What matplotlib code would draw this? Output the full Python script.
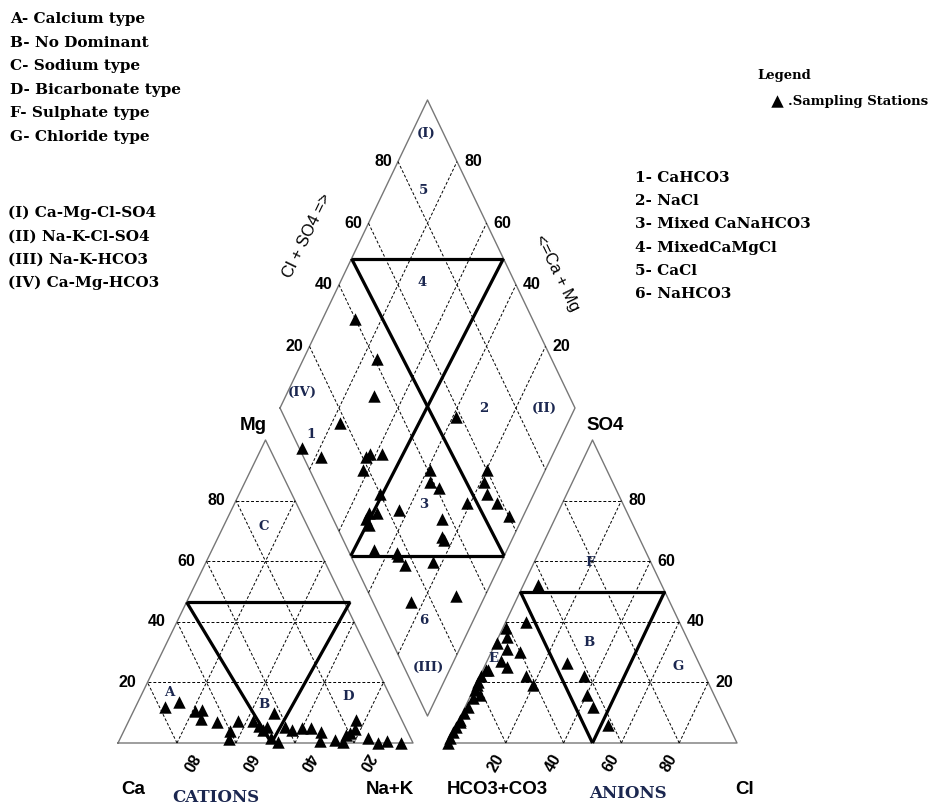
import numpy as np
import matplotlib
matplotlib.use("Agg")
import matplotlib.pyplot as plt

# ---- data (percent of meq) ----
# cation triangle: Na+K %, Mg %
cat_nak = [10, 14, 21, 23, 24, 30, 36, 37, 37, 42, 45, 47, 48, 48, 54, 51,
           54, 57, 60, 63, 67, 68, 73, 76, 77, 77, 78, 76, 84, 88, 91, 96]
cat_mg = [12, 13.5, 10.5, 11, 8, 7, 4, 1.3, 7.3, 7.3, 5.6, 4.3, 10, 5.3, 0.3, 1.7,
          5.3, 4.3, 5, 5, 3.6, 0.7, 1, 2.6, 3.3, 7.6, 4.6, 0.3, 1.7, 0, 0.7, 0]

# anion triangle: Cl %, SO4 %
an_cl = [5, 7, 1, 3, 0.5, 5, 10, 5, 8, 2, 0.5, 16, 20, 28, 36, 40, 44, 52.5,
         0, 0.5, 3, 1, 1, 0.5, 0.5, 0, 0, 0.5, 1, 0.5, 0.5, 0]
an_so4 = [52, 40, 38, 35, 33, 31, 30, 27, 25, 24, 22, 22, 19, 26.5, 22, 16, 12, 6,
          0, 19, 16, 15, 12, 10, 7.6, 5.4, 3.7, 20, 24, 17.5, 7, 1.7]

# diamond: Na+K %, Cl+SO4 %
dia_nak = [11, 25, 30, 23, 14, 22, 37, 38, 42, 38, 61, 63, 67, 48, 57, 47, 47, 49,
           50, 73, 76, 77, 79, 80, 81, 84, 89, 95, 55, 63, 64, 68, 77, 90, 76, 61]
dia_clso4 = [40, 41, 34, 18, 1, 6, 21, 23, 27, 18, 41, 39, 41, 20, 24, 13, 11, 11,
             16, 37, 34, 34, 48, 60, 57, 56, 58, 60, 9, 16, 16, 17, 27, 29, 13, 58]

ticks = [20, 40, 60, 80]

water_types = ["A- Calcium type", "B- No Dominant", "C- Sodium type",
               "D- Bicarbonate type", "F- Sulphate type", "G- Chloride type"]
facies = ["(I) Ca-Mg-Cl-SO4", "(II) Na-K-Cl-SO4", "(III) Na-K-HCO3", "(IV) Ca-Mg-HCO3"]
classes = ["1- CaHCO3", "2- NaCl", "3- Mixed CaNaHCO3", "4- MixedCaMgCl",
           "5- CaCl", "6- NaHCO3"]

# ---- layout (pixel space, y down) ----
BASE = 743
TH = 303          # triangle height
CX0, CS = 118, 295
AX0, AS = 448, 289
DLX, DLY = 280, 408
DW, DH = 295, 616

def cat_xy(nak, mg):
    nak, mg = np.asarray(nak, float), np.asarray(mg, float)
    return CX0 + CS * (nak + mg / 2) / 100, BASE - TH * mg / 100

def an_xy(cl, so4):
    cl, so4 = np.asarray(cl, float), np.asarray(so4, float)
    return AX0 + AS * (cl + so4 / 2) / 100, BASE - TH * so4 / 100

def dia_xy(nak, a):
    nak, a = np.asarray(nak, float), np.asarray(a, float)
    return DLX + DW / 2 * (nak + a) / 100, DLY + DH / 2 * (nak - a) / 100

fig = plt.figure(figsize=(9.35, 8.06), dpi=100)
ax = fig.add_axes([0, 0, 1, 1])
ax.set_xlim(0, 935)
ax.set_ylim(806, 0)
ax.axis("off")

gray = "#777777"
dash = dict(color="black", lw=0.7, ls=(0, (3, 2)))
navy = "#1b2750"

def seg(f, p, q, **kw):
    x1, y1 = f(*p)
    x2, y2 = f(*q)
    ax.plot([x1, x2], [y1, y2], **kw)

# outlines
for f in (cat_xy, an_xy):
    pts = [(0, 0), (100, 0), (0, 100), (0, 0)]
    xs, ys = f([p[0] for p in pts], [p[1] for p in pts])
    ax.plot(xs, ys, color=gray, lw=1)
pts = [(0, 0), (100, 0), (100, 100), (0, 100), (0, 0)]
xs, ys = dia_xy([p[0] for p in pts], [p[1] for p in pts])
ax.plot(xs, ys, color=gray, lw=1)

# dashed grids
for v in ticks:
    for f in (cat_xy, an_xy):
        seg(f, (0, v), (100 - v, v), **dash)
        seg(f, (v, 0), (v, 100 - v), **dash)
        seg(f, (100 - v, 0), (0, 100 - v), **dash)
    seg(dia_xy, (v, 0), (v, 100), **dash)
    seg(dia_xy, (0, v), (100, v), **dash)

# thick class boundaries
thick = dict(color="black", lw=2.3, solid_capstyle="butt")
seg(cat_xy, (0, 46.5), (55.4, 46.5), **thick)
seg(cat_xy, (0, 46.5), (52, 0), **thick)
seg(cat_xy, (55.4, 46.5), (52, 0), **thick)
seg(an_xy, (0, 50), (50, 50), **thick)
seg(an_xy, (0, 50), (50, 0), **thick)
seg(an_xy, (50, 50), (50, 0), **thick)
seg(dia_xy, (0, 48.5), (51.5, 100), **thick)
seg(dia_xy, (0, 48.5), (100, 52), **thick)
seg(dia_xy, (51.5, 100), (48, 0), **thick)
seg(dia_xy, (48, 0), (100, 52), **thick)

# sample points
mk = dict(marker="^", s=80, color="black", zorder=5, linewidths=0)
ax.scatter(*cat_xy(cat_nak, cat_mg), **mk)
ax.scatter(*an_xy(an_cl, an_so4), **mk)
ax.scatter(*dia_xy(dia_nak, dia_clso4), **mk)

# tick labels
tk = dict(fontsize=11.5, fontweight="bold", family="Liberation Sans", ha="center", va="center")
for v in ticks:
    x, y = cat_xy(0, v)
    ax.text(x - 20, y, str(v), **tk)
    x, y = cat_xy(v, 0)
    ax.text(x + 12, y + 19, str(100 - v), rotation=-120, **tk)
    x, y = an_xy(v, 0)
    ax.text(x - 10, y + 20, str(v), rotation=60, **tk)
    x, y = an_xy(100 - v, v)
    ax.text(x + 16, y, str(v), **tk)
    x, y = dia_xy(0, v)
    ax.text(x - 15, y, str(v), **tk)
    x, y = dia_xy(100 - v, 100)
    ax.text(x + 16, y, str(v), **tk)

# axis names
ax_kw = dict(fontsize=13.5, fontweight="bold", family="Liberation Sans", ha="center", va="center")
ax.text(253, 425, "Mg", **ax_kw)
ax.text(133, 790, "Ca", **ax_kw)
ax.text(390, 790, "Na+K", **ax_kw)
ax.text(605, 425, "SO4", **ax_kw)
ax.text(497, 790, "HCO3+CO3", **ax_kw)
ax.text(745, 790, "Cl", **ax_kw)
ax.text(307, 236, "Cl + SO4 =>", rotation=64, fontsize=12, family="Liberation Sans",
        ha="center", va="center")
ax.text(557, 273, "<=Ca + Mg", rotation=-64, fontsize=12, family="Liberation Sans",
        ha="center", va="center")
ax.text(216, 798, "CATIONS", fontsize=12, fontweight="bold", family="DejaVu Serif",
        color=navy, ha="center", va="center")
ax.text(628, 793, "ANIONS", fontsize=12, fontweight="bold", family="DejaVu Serif",
        color=navy, ha="center", va="center")

# region labels
rl = dict(fontsize=9.5, fontweight="bold", family="DejaVu Serif", color=navy,
          ha="center", va="center")
regions = [("A", 169, 693), ("B", 264, 704), ("C", 264, 527), ("D", 348, 697),
           ("F", 590, 563), ("B", 589, 642), ("E", 493, 658), ("G", 678, 666),
           ("(I)", 426, 133), ("5", 424, 190), ("4", 422, 282), ("2", 484, 408),
           ("(II)", 544, 408), ("(IV)", 302, 392), ("1", 311, 435), ("3", 424, 504),
           ("6", 424, 621), ("(III)", 428, 667)]
for t, x, y in regions:
    ax.text(x, y, t, **rl)

# text blocks
tb = dict(fontsize=11, fontweight="bold", family="DejaVu Serif", ha="left", va="center")
for i, t in enumerate(water_types):
    ax.text(10, 19 + 23.6 * i, t, **tb)
for i, t in enumerate(facies):
    ax.text(8, 213 + 23.4 * i, t, **tb)
for i, t in enumerate(classes):
    ax.text(635, 178 + 23.2 * i, t, **tb)

ax.text(757, 75, "Legend", fontsize=9.5, fontweight="bold", family="DejaVu Serif",
        ha="left", va="center")
ax.scatter([777], [101], **mk)
ax.text(788, 101, ".Sampling Stations", fontsize=9.5, fontweight="bold",
        family="DejaVu Serif", ha="left", va="center")

fig.savefig("out.png", dpi=100)
